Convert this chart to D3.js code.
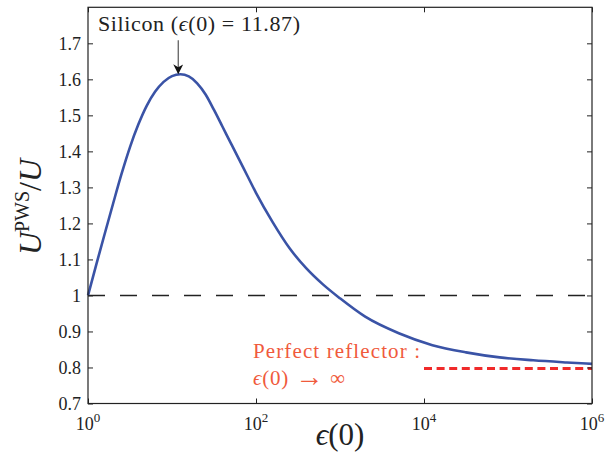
<!DOCTYPE html>
<html>
<head>
<meta charset="utf-8">
<script src="https://cdn.jsdelivr.net/npm/d3@7"></script>
<style>
  body { margin: 0; background: #fff; }
</style>
</head>
<body>
<div id="chart"></div>
<script>
// curve: eps(0) vs U^PWS / U
const epsValues = [1, 1.259, 1.585, 1.995, 2.512, 3.162, 3.981, 5.012, 6.310, 7.943, 10,
  12.59, 15.85, 19.95, 25.12, 31.62, 39.81, 50.12, 63.10, 79.43, 100, 158.5, 251.2, 398.1,
  631.0, 1000, 1995, 5012, 12590, 31620, 79430, 199500, 501200, 1e6];
const ratioValues = [1.000, 1.087, 1.172, 1.256, 1.338, 1.412, 1.475, 1.527, 1.566, 1.593, 1.609,
  1.614, 1.608, 1.589, 1.558, 1.515, 1.469, 1.423, 1.377, 1.331, 1.285, 1.203, 1.131, 1.075,
  1.030, 0.992, 0.941, 0.895, 0.862, 0.842, 0.828, 0.820, 0.814, 0.810];

const xTicks = [1, 1e2, 1e4, 1e6];
const xTickExps = ["0", "2", "4", "6"];
const yTicks = [0.7, 0.8, 0.9, 1.0, 1.1, 1.2, 1.3, 1.4, 1.5, 1.6, 1.7];

const referenceLevel = 1;          // black dashed line
const reflectorLevel = 0.8;        // perfect reflector limit
const reflectorStart = 1e4;
const siliconEps = 11.87;

const serif = "'Liberation Serif','Times New Roman','DejaVu Serif',serif";

const W = 611, H = 454;
const margin = {top: 7.3, right: 19, bottom: 50.5, left: 88};
const width = W - margin.left - margin.right,
      height = H - margin.top - margin.bottom;

const svg = d3.select("#chart").append("svg")
  .attr("width", W).attr("height", H)
  .style("font-family", serif);

svg.append("defs").append("marker")
  .attr("id", "arrow")
  .attr("viewBox", "0 0 10 10")
  .attr("refX", 9).attr("refY", 5)
  .attr("markerWidth", 10).attr("markerHeight", 10)
  .attr("markerUnits", "userSpaceOnUse")
  .attr("orient", "auto")
  .append("path")
  .attr("d", "M0,0 L10,5 L0,10 L3,5 Z")
  .attr("fill", "#111");

const g = svg.append("g")
  .attr("transform", `translate(${margin.left},${margin.top})`);

const x = d3.scaleLog().domain([1, 1e6]).range([0, width]);
const y = d3.scaleLinear().domain([0.7, 1.8]).range([height, 0]);

// dashed reference at 1
g.append("line")
  .attr("x1", x(1)).attr("x2", x(1e6))
  .attr("y1", y(referenceLevel)).attr("y2", y(referenceLevel))
  .attr("stroke", "#222").attr("stroke-width", 1.4)
  .attr("stroke-dasharray", "17,15");

// perfect reflector limit
g.append("line")
  .attr("x1", x(reflectorStart)).attr("x2", x(1e6))
  .attr("y1", y(reflectorLevel) + 1).attr("y2", y(reflectorLevel) + 1)
  .attr("stroke", "#f02a2a").attr("stroke-width", 3)
  .attr("stroke-dasharray", "8,4.6");

// main curve
const line = d3.line()
  .x((d, i) => x(epsValues[i]))
  .y(d => y(d))
  .curve(d3.curveMonotoneX);

g.append("path")
  .datum(ratioValues)
  .attr("d", line)
  .attr("fill", "none")
  .attr("stroke", "#3a53a6")
  .attr("stroke-width", 2.6);

// axes, ticks pointing inward
const tickFmt = v => String(+v.toFixed(1));

const yAxis = g.append("g")
  .call(d3.axisLeft(y).tickValues(yTicks).tickFormat(tickFmt)
    .tickSizeInner(-5).tickSizeOuter(0).tickPadding(7));
g.append("g")
  .attr("transform", `translate(${width},0)`)
  .call(d3.axisRight(y).tickValues(yTicks).tickFormat("")
    .tickSizeInner(-5).tickSizeOuter(0));

g.append("g")
  .attr("transform", `translate(0,${height})`)
  .call(d3.axisBottom(x).tickValues(xTicks).tickFormat("")
    .tickSizeInner(-5).tickSizeOuter(0));
g.append("g")
  .call(d3.axisTop(x).tickValues(xTicks).tickFormat("")
    .tickSizeInner(-5).tickSizeOuter(0));

g.selectAll(".domain").remove();
g.selectAll(".tick line").attr("stroke", "#222");
g.selectAll("g").attr("font-family", serif);

yAxis.selectAll("text")
  .attr("font-size", 18)
  .attr("fill", "#222");

// x tick labels: 10^n
xTicks.forEach((t, i) => {
  const lab = g.append("text")
    .attr("x", x(t)).attr("y", height + 27)
    .attr("text-anchor", "middle")
    .attr("fill", "#222")
    .attr("font-size", 18);
  lab.append("tspan").text("10");
  lab.append("tspan").attr("dy", -8).attr("font-size", 13).text(xTickExps[i]);
});

// frame
g.append("rect")
  .attr("width", width).attr("height", height)
  .attr("fill", "none").attr("stroke", "#222").attr("stroke-width", 1.2);

// axis titles
const xl = svg.append("text")
  .attr("x", margin.left + width / 2).attr("y", 445)
  .attr("text-anchor", "middle")
  .attr("font-size", 31).attr("fill", "#222");
xl.append("tspan").attr("font-style", "italic").text("ϵ");
xl.append("tspan").text("(0)");

const yl = svg.append("text")
  .attr("transform", "translate(41,207) rotate(-90)")
  .attr("text-anchor", "middle")
  .attr("font-size", 32).attr("fill", "#222");
yl.append("tspan").attr("font-style", "italic").text("U");
yl.append("tspan").attr("font-size", 20).attr("dy", -12).text("PWS");
yl.append("tspan").attr("dy", 12).text("/");
yl.append("tspan").attr("font-style", "italic").text("U");

// silicon annotation
const si = g.append("text")
  .attr("x", 10).attr("y", 24)
  .attr("font-size", 22).attr("fill", "#222")
  .attr("textLength", 202).attr("lengthAdjust", "spacing");
si.append("tspan").text("Silicon (");
si.append("tspan").attr("font-style", "italic").text("ϵ");
si.append("tspan").text("(0) = 11.87)");

g.append("line")
  .attr("x1", x(siliconEps)).attr("x2", x(siliconEps))
  .attr("y1", 33).attr("y2", y(d3.max(ratioValues)) - 1)
  .attr("stroke", "#555").attr("stroke-width", 1.2)
  .attr("marker-end", "url(#arrow)");

// perfect reflector label
const pr = g.append("g").attr("fill", "#f05a3c").attr("font-size", 21);
pr.append("text").attr("x", 165).attr("y", 351)
  .attr("textLength", 167).attr("lengthAdjust", "spacing")
  .text("Perfect reflector :");
const pr2 = pr.append("text").attr("x", 165).attr("y", 378)
  .attr("textLength", 92).attr("lengthAdjust", "spacing");
pr2.append("tspan").attr("font-style", "italic").text("ϵ");
pr2.append("tspan").text("(0) ");
pr2.append("tspan").attr("font-size", 28).attr("dy", 1).text("→");
pr2.append("tspan").attr("dy", -1).text(" ∞");
</script>
</body>
</html>
